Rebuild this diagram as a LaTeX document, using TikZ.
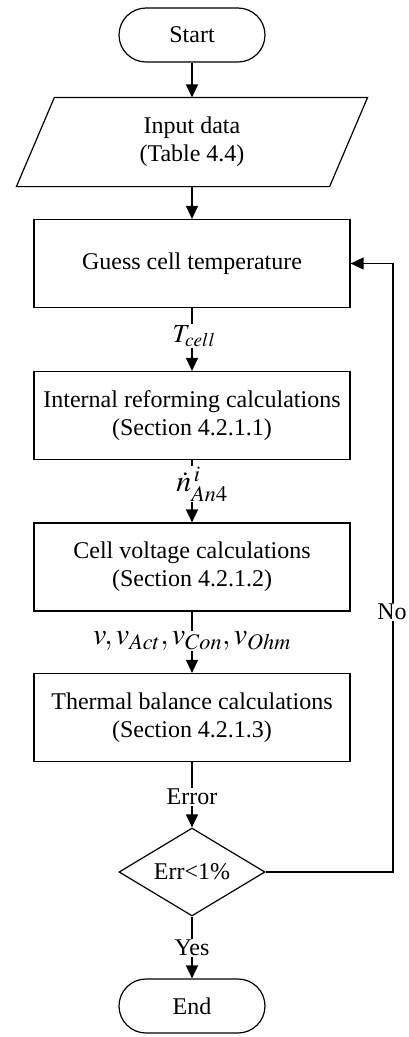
\documentclass[tikz,border=0pt]{standalone}
\usepackage{mathptmx}
\usepackage[no-math]{fontspec}
\setmainfont{Liberation Serif}
\usetikzlibrary{arrows.meta,shapes.geometric}
\begin{document}
\begin{tikzpicture}[x=1pt,y=-1pt, line width=1.2pt,
  every node/.style={font=\fontsize{24}{28}\selectfont},
  box/.style={draw, rectangle, minimum width=316pt, minimum height=88pt, align=center, inner sep=0pt},
  term/.style={draw, rectangle, rounded corners=27pt, minimum width=146pt, minimum height=54pt, inner sep=0pt},
  dec/.style={draw, diamond, aspect=1.66, minimum width=146pt, minimum height=88pt, inner sep=0pt},
  lbl/.style={fill=white, inner sep=1pt},
  arr/.style={-{Triangle[width=12pt,length=13pt]}}]
\useasboundingbox (0,0) rectangle (408,1037);

\node[term] (start) at (192,35) {Start};
\node[minimum width=312pt, minimum height=88pt, inner sep=0pt, align=center] (input) at (192,142) {Input data\\(Table 4.4)};
\draw ([xshift=19pt]input.north west) -- ([xshift=19pt]input.north east)
      -- ([xshift=-19pt]input.south east) -- ([xshift=-19pt]input.south west) -- cycle;
\node[box] (guess) at (192,263.5) {Guess cell temperature};
\node[box] (internal) at (192,415.5) {Internal reforming calculations\\(Section 4.2.1.1)};
\node[box] (cell) at (192,567) {Cell voltage calculations\\(Section 4.2.1.2)};
\node[box] (thermal) at (192,717.5) {Thermal balance calculations\\(Section 4.2.1.3)};
\node[dec] (check) at (192,872) {Err<1\%};
\node[term] (end) at (192,1006) {End};

\coordinate (fb) at (393,872);

\draw[arr] (start) -- (input);
\draw[arr] (input) -- (guess);
\draw[arr] (guess) -- (internal);
\draw[arr] (internal) -- (cell);
\draw[arr] (cell) -- (thermal);
\draw[arr] (thermal) -- (check);
\draw[arr] (check) -- (end);
\draw[arr] (check.east) -- (fb) |- (guess.east);

\node[lbl, font=\fontsize{26}{28}\selectfont] (tcell) at (194,336) {$T_{cell}$};
\node[lbl, font=\fontsize{30}{32}\selectfont] (ndot) at (202,484) {$\dot{n}_{An4}^{\,i}$};
\node[lbl, font=\fontsize{30}{32}\selectfont] (vlbl) at (192,641) {$v, v_{Act}, v_{Con}, v_{Ohm}$};
\node[lbl] (err) at (192,797) {Error};
\node[lbl] (yes) at (192,948) {Yes};
\node[lbl] (no) at (392,612) {No};
\end{tikzpicture}
\end{document}
